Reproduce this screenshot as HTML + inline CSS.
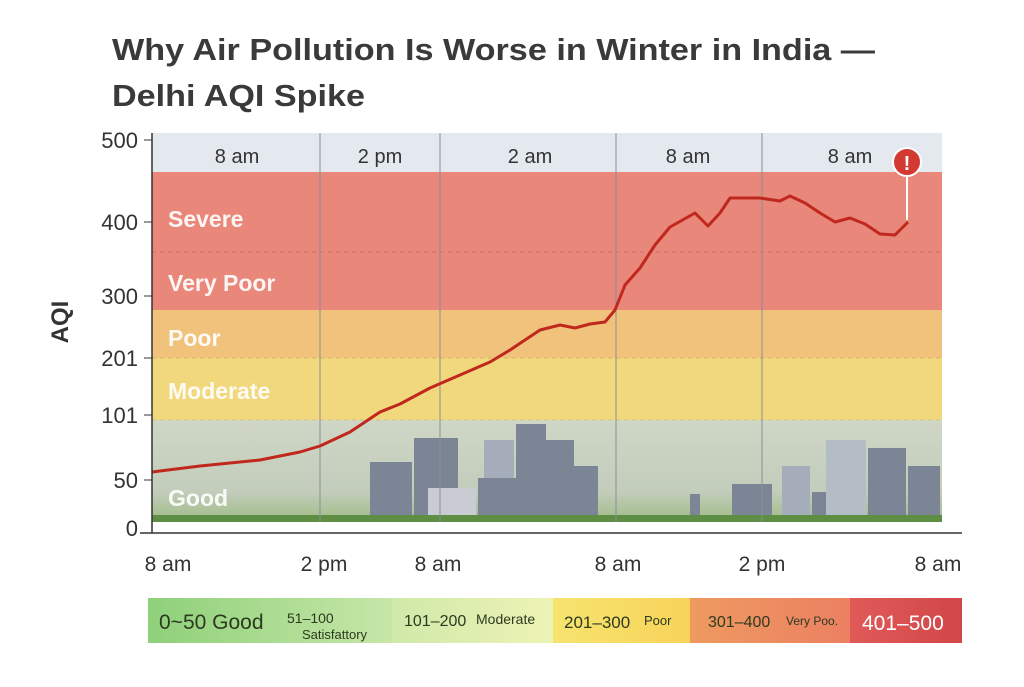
<!DOCTYPE html>
<html><head><meta charset="utf-8"><style>
body{margin:0;background:#fff;width:1024px;height:682px;overflow:hidden;font-family:"Liberation Sans",sans-serif}
</style></head><body>
<svg width="1024" height="682" viewBox="0 0 1024 682" xmlns="http://www.w3.org/2000/svg" font-family="Liberation Sans, sans-serif">
<defs>
<linearGradient id="gz" x1="0" y1="0" x2="0" y2="1"><stop offset="0" stop-color="#cfd6c6"/><stop offset="0.7" stop-color="#c3cdbb"/><stop offset="1" stop-color="#9fbb86"/></linearGradient>
<linearGradient id="l1" x1="0" x2="1"><stop offset="0" stop-color="#8fd07a"/><stop offset="1" stop-color="#c6e7a8"/></linearGradient>
<linearGradient id="l2" x1="0" x2="1"><stop offset="0" stop-color="#cfe9a9"/><stop offset="1" stop-color="#eef3b5"/></linearGradient>
<linearGradient id="l3" x1="0" x2="1"><stop offset="0" stop-color="#f6e46f"/><stop offset="1" stop-color="#f8d35a"/></linearGradient>
<linearGradient id="l4" x1="0" x2="1"><stop offset="0" stop-color="#ee9a60"/><stop offset="1" stop-color="#ec8062"/></linearGradient>
<linearGradient id="l5" x1="0" x2="1"><stop offset="0" stop-color="#e05a58"/><stop offset="1" stop-color="#d2474a"/></linearGradient>
</defs>
<text x="112" y="60" font-size="31" font-weight="bold" fill="#3a3a3a" textLength="763" lengthAdjust="spacingAndGlyphs">Why Air Pollution Is Worse in Winter in India —</text>
<text x="112" y="106" font-size="31" font-weight="bold" fill="#3a3a3a" textLength="253" lengthAdjust="spacingAndGlyphs">Delhi AQI Spike</text>
<rect x="152" y="133" width="790" height="39" fill="#e4e8ef"/>
<rect x="152" y="172" width="790" height="138" fill="#e8877a"/>
<rect x="152" y="310" width="790" height="48" fill="#f1c27c"/>
<rect x="152" y="358" width="790" height="62" fill="#f2d87d"/>
<rect x="152" y="420" width="790" height="102" fill="url(#gz)"/>
<line x1="152" y1="252" x2="942" y2="252" stroke="#d07066" stroke-dasharray="4,4"/>
<line x1="152" y1="358" x2="942" y2="358" stroke="#d7b26a" stroke-dasharray="4,4"/>
<line x1="152" y1="420" x2="942" y2="420" stroke="#c9c18a" stroke-dasharray="4,4"/>
<g fill="#7b8595">
<rect x="370" y="462" width="42" height="56"/><rect x="414" y="438" width="44" height="80"/><rect x="428" y="488" width="48" height="30" fill="#c9ccd2"/>
<rect x="478" y="478" width="44" height="40"/><rect x="484" y="440" width="30" height="38" fill="#a4adb9"/><rect x="516" y="424" width="30" height="94"/><rect x="546" y="440" width="28" height="78"/><rect x="572" y="466" width="26" height="52"/>
<rect x="690" y="494" width="10" height="24"/><rect x="732" y="484" width="40" height="34"/><rect x="782" y="466" width="28" height="52" fill="#a4adb9"/><rect x="812" y="492" width="40" height="26"/><rect x="826" y="440" width="40" height="78" fill="#b4bcc6"/><rect x="868" y="448" width="38" height="70"/><rect x="908" y="466" width="32" height="52"/>
</g>
<rect x="152" y="515" width="790" height="7" fill="#5e8d44"/>
<g stroke="#8a8f96" stroke-width="1"><line x1="320" y1="133" x2="320" y2="522"/><line x1="440" y1="133" x2="440" y2="522"/><line x1="616" y1="133" x2="616" y2="522"/><line x1="762" y1="133" x2="762" y2="522"/></g>
<g font-size="20" fill="#333" text-anchor="middle"><text x="237" y="163">8 am</text><text x="380" y="163">2 pm</text><text x="530" y="163">2 am</text><text x="688" y="163">8 am</text><text x="850" y="163">8 am</text></g>
<g font-size="23" font-weight="bold" fill="#fff" opacity="0.92"><text x="168" y="227">Severe</text><text x="168" y="291">Very Poor</text><text x="168" y="346">Poor</text><text x="168" y="399">Moderate</text><text x="168" y="506">Good</text></g>
<polyline fill="none" stroke="#c0281e" stroke-width="3" stroke-linejoin="round" points="152,472 200,466 260,460 300,452 320,446 350,432 380,412 400,404 430,388 460,375 490,362 510,350 540,330 560,325 575,328 590,324 605,322 615,310 625,285 640,268 655,245 670,227 695,213 708,226 720,213 730,198 760,198 780,201 790,196 805,203 820,213 835,222 850,218 865,224 880,234 895,235 908,222"/>
<line x1="907" y1="175" x2="907" y2="220" stroke="#fff" stroke-width="2"/>
<circle cx="907" cy="162" r="14" fill="#d33a32" stroke="#fff" stroke-width="2"/>
<text x="907" y="170" font-size="20" font-weight="bold" fill="#fff" text-anchor="middle">!</text>
<line x1="152" y1="133" x2="152" y2="533" stroke="#333" stroke-width="1.5"/>
<line x1="140" y1="533" x2="962" y2="533" stroke="#333" stroke-width="1.5"/>
<g stroke="#333"><line x1="144" y1="140" x2="152" y2="140"/><line x1="144" y1="222" x2="152" y2="222"/><line x1="144" y1="296" x2="152" y2="296"/><line x1="144" y1="358" x2="152" y2="358"/><line x1="144" y1="415" x2="152" y2="415"/><line x1="144" y1="480" x2="152" y2="480"/></g>
<g font-size="22" fill="#333" text-anchor="end"><text x="138" y="148">500</text><text x="138" y="230">400</text><text x="138" y="304">300</text><text x="138" y="366">201</text><text x="138" y="423">101</text><text x="138" y="488">50</text><text x="138" y="536">0</text></g>
<text transform="translate(68,322) rotate(-90)" font-size="24" font-weight="bold" fill="#333" text-anchor="middle">AQI</text>
<g font-size="21" fill="#333" text-anchor="middle"><text x="168" y="571">8 am</text><text x="324" y="571">2 pm</text><text x="438" y="571">8 am</text><text x="618" y="571">8 am</text><text x="762" y="571">2 pm</text><text x="938" y="571">8 am</text></g>
<rect x="148" y="598" width="244" height="45" fill="url(#l1)"/>
<rect x="392" y="598" width="161" height="45" fill="url(#l2)"/>
<rect x="553" y="598" width="137" height="45" fill="url(#l3)"/>
<rect x="690" y="598" width="160" height="45" fill="url(#l4)"/>
<rect x="850" y="598" width="112" height="45" fill="url(#l5)"/>
<g fill="#2c3a20"><text x="159" y="629" font-size="21">0~50 Good</text><text x="287" y="623" font-size="14">51–100</text><text x="302" y="639" font-size="13">Satisfattory</text>
<text x="404" y="626" font-size="16">101–200</text><text x="476" y="624" font-size="14">Moderate</text>
<text x="564" y="628" font-size="17">201–300</text><text x="644" y="625" font-size="13">Poor</text>
<text x="708" y="627" font-size="16">301–400</text><text x="786" y="625" font-size="12">Very Poo.</text></g>
<text x="862" y="630" font-size="21" fill="#fff">401–500</text>
</svg>
</body></html>
